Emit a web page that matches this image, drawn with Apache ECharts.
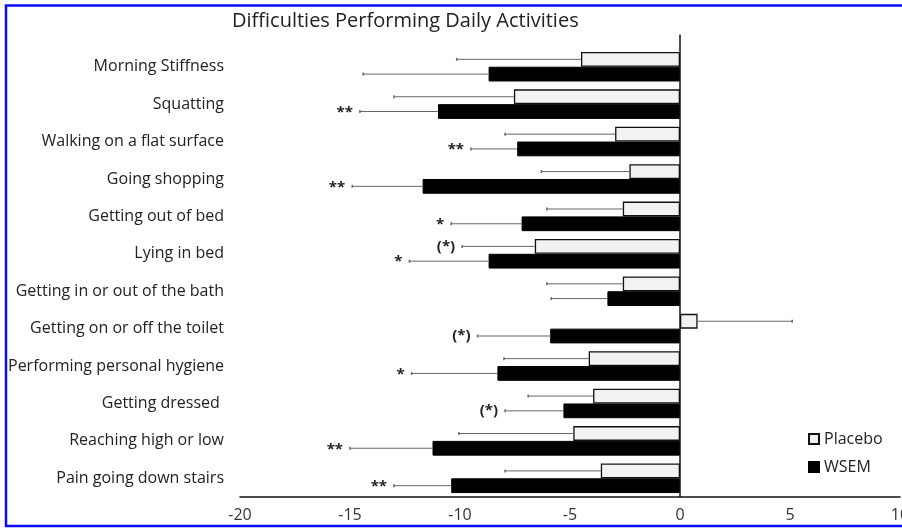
<!DOCTYPE html>
<html>
<head>
<meta charset="utf-8">
<script src="https://cdn.jsdelivr.net/npm/echarts@6/dist/echarts.min.js"></script>
<style>
html,body{margin:0;padding:0;background:#fff;}
#chart{width:902px;height:529px;}
</style>
</head>
<body>
<div id="chart"></div>
<script>
const categories = ['Morning Stiffness','Squatting','Walking on a flat surface','Going shopping','Getting out of bed','Lying in bed','Getting in or out of the bath','Getting on or off the toilet','Performing personal hygiene','Getting dressed ','Reaching high or low','Pain going down stairs'];
const placebo = [-4.5, -7.55, -2.95, -2.3, -2.6, -6.6, -2.6, 0.8, -4.15, -3.95, -4.85, -3.6];
const placeboErr = [5.65, 5.45, 5.0, 4.0, 3.45, 3.3, 3.45, 4.3, 3.85, 2.95, 5.2, 4.35];
const wsem = [-8.7, -11.0, -7.4, -11.7, -7.2, -8.7, -3.3, -5.9, -8.3, -5.3, -11.25, -10.4];
const wsemErr = [5.7, 3.55, 2.1, 3.2, 3.2, 3.6, 2.55, 3.3, 3.9, 2.65, 3.75, 2.6];
const placeboSig = ['', '', '', '', '', '(*)', '', '', '', '', '', ''];
const wsemSig = ['', '**', '**', '**', '*', '*', '', '(*)', '*', '(*)', '**', '**'];
const xTicks = {min: -20, max: 10, interval: 5};

const FONT = 'Open Sans';
const CAT_GAP = 0.21;

function errSeries(name, vals, errs, sigs, side) {
  return {
    type: 'custom',
    name: name + ' error',
    z: 5,
    encode: {x: 0, y: 1},
    data: vals.map((v, i) => [v, i, errs[i]]),
    renderItem: function (params, api) {
      const v = api.value(0), c = api.value(1), e = api.value(2);
      const band = api.size([0, 1])[1];
      const bw = band * (1 - CAT_GAP) / 2;
      const p = api.coord([v, c]);
      const y = p[1] + side * bw / 2;
      const endV = v >= 0 ? v + e : v - e;
      const p2 = api.coord([endV, c]);
      const children = [
        {type: 'line', shape: {x1: p[0], y1: y, x2: p2[0], y2: y}, style: {stroke: '#666', lineWidth: 1}},
        {type: 'line', shape: {x1: p2[0], y1: y - 1.5, x2: p2[0], y2: y + 1.5}, style: {stroke: '#666', lineWidth: 1.5}}
      ];
      const s = sigs[params.dataIndex];
      if (s) {
        const paren = s.indexOf('(') >= 0;
        children.push({type: 'text', x: p2[0] - 7, y: y + (paren ? 0 : 1),
          style: {text: s, align: 'right', verticalAlign: 'middle', fill: '#222',
            font: 'bold 15px "' + FONT + '"'}});
      }
      return {type: 'group', children: children};
    }
  };
}

const chart = echarts.init(document.getElementById('chart'));
chart.setOption({
  animation: false,
  backgroundColor: '#fff',
  title: {
    text: 'Difficulties Performing Daily Activities',
    left: 227, top: 6,
    textStyle: {fontFamily: FONT, fontSize: 20, fontWeight: 'normal', color: '#222'}
  },
  graphic: [{
    type: 'rect', z: -1,
    shape: {x: 6, y: 5.5, width: 930, height: 520.5},
    style: {fill: 'none', stroke: '#0a0aff', lineWidth: 2.5}
  }],
  legend: {
    data: ['Placebo', 'WSEM'],
    orient: 'vertical',
    left: 803, top: 426,
    itemWidth: 10, itemHeight: 10, itemGap: 12,
    icon: 'rect',
    textStyle: {fontFamily: FONT, fontSize: 16, color: '#222'}
  },
  grid: {left: 240, right: 2, top: 48, bottom: 32, containLabel: false, outerBoundsMode: 'none'},
  xAxis: {
    type: 'value', min: xTicks.min, max: xTicks.max, interval: xTicks.interval,
    splitLine: {show: false},
    axisTick: {show: false},
    axisLine: {show: true, onZero: false, lineStyle: {color: '#111', width: 1.5}},
    axisLabel: {fontFamily: FONT, fontSize: 16, color: '#333', margin: 10, hideOverlap: false}
  },
  yAxis: {
    type: 'category', inverse: true, data: categories,
    axisLine: {show: false}, axisTick: {show: false},
    axisLabel: {fontFamily: FONT, fontSize: 16, color: '#222', margin: 16}
  },
  series: [
    {
      type: 'bar', name: 'Placebo', data: placebo,
      barGap: '0%', barCategoryGap: (CAT_GAP * 100) + '%',
      itemStyle: {color: '#f2f2f2', borderColor: '#111', borderWidth: 1.3}
    },
    {
      type: 'bar', name: 'WSEM', data: wsem,
      itemStyle: {color: '#000', borderColor: '#000', borderWidth: 1}
    },
    errSeries('Placebo', placebo, placeboErr, placeboSig, -1),
    errSeries('WSEM', wsem, wsemErr, wsemSig, 1),
    {
      type: 'custom', name: 'zero', z: 6,
      encode: {x: 0, y: 1},
      data: [[0, 0]],
      renderItem: function (params, api) {
        const band = api.size([0, 1])[1];
        const p = api.coord([0, 0]);
        const cs = params.coordSys;
        return {type: 'line', shape: {x1: p[0], y1: p[1] - band * 0.86, x2: p[0], y2: cs.y + cs.height},
          style: {stroke: '#111', lineWidth: 1.5}};
      }
    }
  ]
});
</script>
</body>
</html>
